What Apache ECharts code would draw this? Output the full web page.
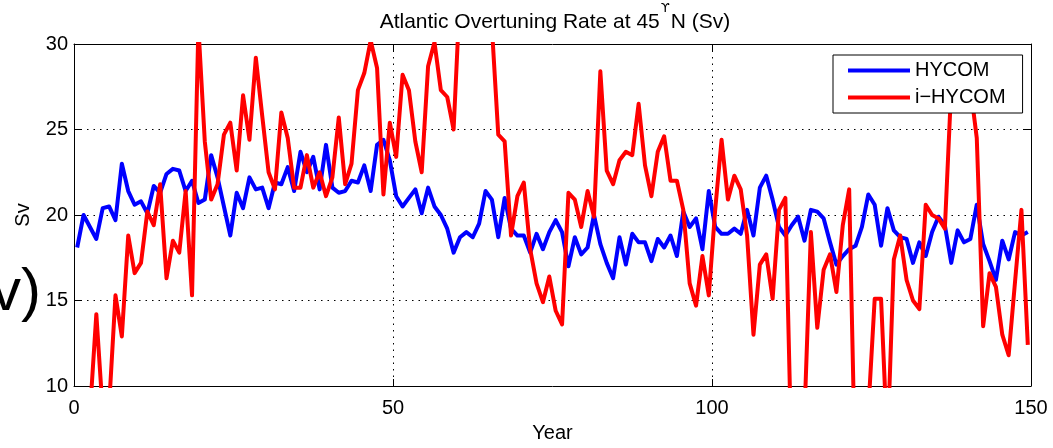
<!DOCTYPE html>
<html>
<head>
<meta charset="utf-8">
<script src="https://cdn.jsdelivr.net/npm/echarts@6/dist/echarts.min.js"></script>
<style>
html,body{margin:0;padding:0;background:#fff;}
#c{width:1053px;height:448px;}
</style>
</head>
<body>
<div id="c"></div>
<script>
// ---- data (annual values, plotted at mid-year) ----
const hycom = [
 18.1,20.0,19.3,18.6,20.4,20.5,19.7,23.0,21.4,20.6,
 20.8,20.1,21.7,21.3,22.4,22.7,22.6,21.4,22.0,20.7,
 20.9,23.5,22.2,20.5,18.8,21.3,20.4,22.2,21.5,21.6,
 20.4,21.9,21.8,22.8,21.4,23.7,22.5,23.4,21.5,24.1,
 21.6,21.3,21.4,22.0,21.9,22.9,21.4,24.1,24.4,23.2,
 21.1,20.5,21.0,21.5,20.1,21.6,20.5,20.0,19.2,17.8,
 18.7,19.0,18.7,19.5,21.4,20.9,18.7,21.0,19.2,18.8,
 18.8,17.8,18.9,18.0,19.0,19.7,19.0,17.0,18.7,17.7,
 18.1,20.0,18.3,17.2,16.3,18.7,17.1,18.9,18.4,18.4,
 17.3,18.6,18.1,18.8,17.6,20.2,19.3,19.8,18.0,21.4,
 19.3,18.9,18.9,19.2,18.9,20.3,18.8,21.6,22.3,20.9,
 19.3,18.8,19.4,19.9,18.5,20.3,20.2,19.8,18.4,17.1,
 17.6,18.0,18.2,19.3,21.2,20.6,18.2,20.4,19.1,18.7,
 18.6,17.2,18.4,17.6,19.0,19.9,19.4,17.2,19.1,18.4,
 18.6,20.6,18.3,17.3,16.2,18.5,17.4,19.0,18.8,19.0
];
const ihycom = [
 6.0,7.0,8.4,14.2,8.5,8.8,15.3,12.9,18.8,16.6,
 17.2,20.2,19.4,21.8,16.3,18.5,17.8,21.4,15.3,31.0,
 24.3,20.9,21.8,24.7,25.4,22.6,27.0,24.4,29.2,25.8,
 22.5,21.5,26.0,24.5,21.6,21.6,23.5,21.6,22.5,21.1,
 22.2,25.7,21.8,23.0,27.3,28.3,30.2,28.6,21.2,25.4,
 23.4,28.2,27.3,24.3,22.5,28.7,30.1,27.3,26.9,25.0,
 33.0,35.0,36.0,34.0,33.0,31.0,24.7,24.3,18.8,21.1,
 21.9,18.0,16.0,14.9,16.4,14.4,13.6,21.3,20.9,19.3,
 21.4,19.9,28.4,22.6,21.8,23.2,23.7,23.5,26.5,22.9,
 21.1,23.7,24.6,22.0,22.0,20.3,16.0,14.7,17.6,15.3,
 20.3,24.4,20.9,22.3,21.5,18.8,13.0,17.1,17.7,15.1,
 20.3,21.0,5.2,6.0,8.3,19.0,13.4,16.8,17.7,15.5,
 19.4,21.5,4.0,4.5,8.5,15.1,15.1,6.5,17.4,18.8,
 16.2,15.0,14.5,20.6,20.0,19.8,19.2,27.5,28.5,28.5,
 27.5,24.5,13.5,16.6,15.8,13.0,11.8,16.1,20.3,12.4
];
const seriesNames = ['HYCOM', 'i\u2212HYCOM'];
const xTicks = [0, 50, 100, 150];
const yTicks = [10, 15, 20, 25, 30];
const titleText = 'Atlantic Overtuning Rate at 45{s|\u03D2}N (Sv)';
const xName = 'Year';
const yName = 'Sv';
const sideText = 'v)';

// ---- chart ----
const FONT = '"Liberation Sans", Arial, Helvetica, sans-serif';
function pairs(vals) { return vals.map((v, i) => [i + 0.5, v]); }

const axisBase = {
  axisLine: { onZero: false, lineStyle: { color: '#000', width: 1 } },
  axisTick: { inside: true, length: 7, lineStyle: { color: '#000', width: 1 } }
};
const gridLine = { show: true, lineStyle: { color: '#000', width: 1, type: [1.5, 5] } };

const chart = echarts.init(document.getElementById('c'), null, { renderer: 'canvas' });
chart.setOption({
  animation: false,
  backgroundColor: '#fff',
  grid: { left: 74, right: 22, top: 44, bottom: 55 },
  xAxis: [
    Object.assign({
      type: 'value', position: 'bottom',
      min: xTicks[0], max: xTicks[xTicks.length - 1], interval: xTicks[1] - xTicks[0],
      name: xName, nameLocation: 'middle', nameGap: 37,
      nameTextStyle: { color: '#000', fontSize: 20, fontFamily: FONT },
      axisLabel: { margin: 12, color: '#000', fontSize: 20, fontFamily: FONT },
      splitLine: gridLine
    }, axisBase),
    Object.assign({
      type: 'value', position: 'top',
      min: xTicks[0], max: xTicks[xTicks.length - 1], interval: xTicks[1] - xTicks[0],
      axisLabel: { show: false }, splitLine: { show: false }
    }, axisBase)
  ],
  yAxis: [
    Object.assign({
      type: 'value', position: 'left',
      min: yTicks[0], max: yTicks[yTicks.length - 1], interval: yTicks[1] - yTicks[0],
      name: yName, nameLocation: 'middle', nameGap: 41,
      nameTextStyle: { color: '#000', fontSize: 20, fontFamily: FONT },
      axisLabel: { margin: 6, color: '#000', fontSize: 20, fontFamily: FONT },
      splitLine: gridLine
    }, axisBase),
    Object.assign({
      type: 'value', position: 'right',
      min: yTicks[0], max: yTicks[yTicks.length - 1], interval: yTicks[1] - yTicks[0],
      axisLabel: { show: false }, splitLine: { show: false }
    }, axisBase)
  ],
  legend: {
    data: seriesNames,
    left: 833, top: 55,
    orient: 'vertical',
    selectedMode: false,
    icon: 'rect',
    itemWidth: 62, itemHeight: 4,
    itemGap: 6,
    padding: [5, 17, 5, 15],
    backgroundColor: '#fff',
    borderColor: '#000', borderWidth: 1, borderRadius: 0,
    z: 20,
    textStyle: { color: '#000', fontSize: 20, fontFamily: FONT, lineHeight: 21 }
  },
  series: [
    {
      name: seriesNames[0], type: 'line', xAxisIndex: 0, yAxisIndex: 0,
      data: pairs(hycom), symbol: 'none', showSymbol: false, z: 2,
      lineStyle: { color: '#0000ff', width: 4, join: 'round' },
      itemStyle: { color: '#0000ff' }
    },
    {
      name: seriesNames[1], type: 'line', xAxisIndex: 0, yAxisIndex: 0,
      data: pairs(ihycom), symbol: 'none', showSymbol: false, z: 3,
      lineStyle: { color: '#ff0000', width: 4, join: 'round' },
      itemStyle: { color: '#ff0000' }
    }
  ],
  graphic: [
    {
      type: 'text', x: 555, y: 22.5, z: 10,
      style: {
        text: titleText,
        font: '21px ' + FONT,
        fill: '#000',
        textAlign: 'center', textVerticalAlign: 'middle',
        rich: {
          s: { fontSize: 13, fontFamily: '"DejaVu Sans", sans-serif', fill: '#000', padding: [0, 1, 28, 1], verticalAlign: 'middle' }
        }
      }
    },
    {
      type: 'text', x: 41, y: 293, z: 10,
      style: {
        text: sideText,
        font: '60px ' + FONT,
        fill: '#000',
        textAlign: 'right', textVerticalAlign: 'middle'
      }
    }
  ]
});
</script>
</body>
</html>
